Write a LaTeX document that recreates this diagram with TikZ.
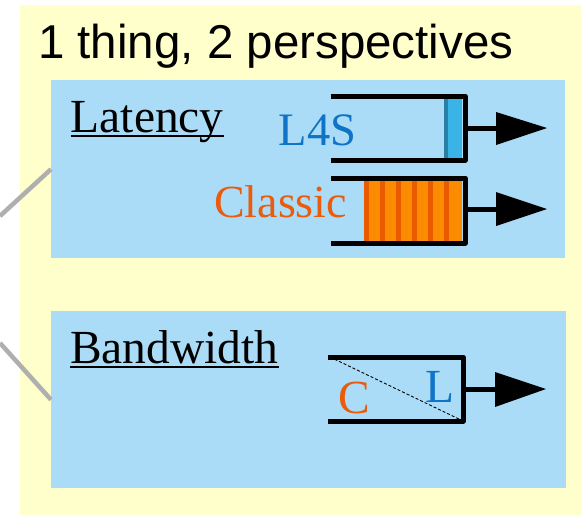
\documentclass[tikz,border=0pt]{standalone}
\usepackage{fontspec}
\setmainfont{Liberation Serif}
\newfontfamily\serifface{Liberation Serif}
\newfontfamily\titlefont{Liberation Sans}
\definecolor{bgyellow}{HTML}{FFFFCC}
\definecolor{panelblue}{HTML}{AADCF7}
\definecolor{lfsblue}{HTML}{0F73C6}
\definecolor{classicorange}{HTML}{EA5B0C}
\definecolor{pktblue}{HTML}{3AB4E6}
\definecolor{pktblueedge}{HTML}{2A7FA6}
\definecolor{pktorange}{HTML}{FB8C00}
\definecolor{pktorangeedge}{HTML}{EA5A00}
\definecolor{linkgray}{HTML}{AFAFAF}
\tikzset{
  panel/.style={fill=panelblue, draw=none, inner sep=0pt, anchor=north west},
  txt/.style={inner sep=0pt, anchor=base west, font=\serifface\fontsize{47.5}{50}\selectfont},
  ulrule/.style={line width=2.6pt},
  qline/.style={line width=5pt, line join=round},
  outline/.style={line width=5pt},
  link/.style={draw=linkgray, line width=4.5pt},
}
\begin{document}
\begin{tikzpicture}[x=1pt,y=-1pt]
\useasboundingbox (0,0) rectangle (581,515);
\fill[bgyellow] (20,5) rectangle (581,515);

% panels
\node[panel, minimum width=514pt, minimum height=178pt] (lat) at (51,80) {};
\node[panel, minimum width=515pt, minimum height=177pt] (bw) at (51,311) {};

% gray links
\coordinate (l1) at (0,216);
\coordinate (l2) at (0,343);
\draw[link] (l1) -- (lat.west);
\draw[link] (l2) -- (bw.west);

% title
\node[txt, font=\titlefont\fontsize{47.5}{50}\selectfont] (title) at (38,58) {1 thing, 2 perspectives};

% headings
\node[txt] (latency) at (70.5,132) {Latency};
\draw[ulrule] ([yshift=-4pt]latency.base west) -- ([yshift=-4pt]latency.base east);
\node[txt] (bandwidth) at (70,363) {Bandwidth};
\draw[ulrule] ([yshift=-4pt]bandwidth.base west) -- ([yshift=-4pt]bandwidth.base east);

% L4S queue
\node[txt, text=lfsblue, font=\serifface\fontsize{46.5}{50}\selectfont] (l4s) at (278.5,145) {L4S};
\fill[pktblue] (444,98) rectangle (462,158);
\fill[pktblueedge] (444,98) rectangle (448,158);
\coordinate (q1tl) at (331,96);
\coordinate (q1tr) at (465,96);
\coordinate (q1br) at (465,160);
\coordinate (q1bl) at (331,160);
\draw[qline] (q1tl) -- (q1tr) -- (q1br) -- (q1bl);
\coordinate (a1s) at (465,128);
\coordinate (a1b) at (497,128);
\draw[outline] (a1s) -- (a1b);
\fill (496,112) -- (547,128) -- (496,145) -- cycle;

% Classic queue
\node[txt, text=classicorange, font=\serifface\fontsize{46}{50}\selectfont] (classic) at (214,217) {Classic};
\fill[pktorange] (364,180) rectangle (462,241);
\foreach \k in {0,...,5} {
  \fill[pktorangeedge] ({364+16*\k},180) rectangle ({369+16*\k},241);
}
\coordinate (q2tl) at (331,178);
\coordinate (q2tr) at (465,178);
\coordinate (q2br) at (465,243);
\coordinate (q2bl) at (331,243);
\draw[qline] (q2tl) -- (q2tr) -- (q2br) -- (q2bl);
\coordinate (a2s) at (465,209);
\coordinate (a2b) at (497,209);
\draw[outline] (a2s) -- (a2b);
\fill (496,192) -- (547,209) -- (496,226) -- cycle;

% Bandwidth queue
\coordinate (q3tl) at (328,357);
\coordinate (q3tr) at (463,357);
\coordinate (q3br) at (463,421);
\coordinate (q3bl) at (328,421);
\draw[line width=0.9pt, dash pattern=on 3pt off 2pt] (330,357) -- (461,420);
\draw[qline] (q3tl) -- (q3tr) -- (q3br) -- (q3bl);
\node[txt, text=classicorange] (cl) at (338,413) {C};
\node[txt, text=lfsblue] (ll) at (425.5,402) {L};
\coordinate (a3s) at (463,389);
\coordinate (a3b) at (496,389);
\draw[outline] (a3s) -- (a3b);
\fill (495,372) -- (546,389) -- (495,407) -- cycle;
\end{tikzpicture}
\end{document}
